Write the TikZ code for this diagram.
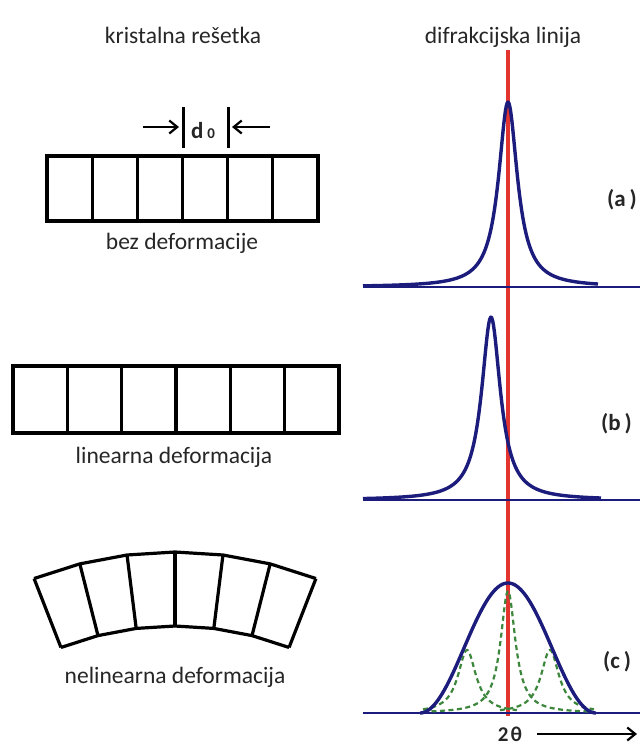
\documentclass[tikz,border=0pt]{standalone}
\usepackage{fontspec}
\setmainfont{Carlito}
\usetikzlibrary{arrows.meta}
\definecolor{peakblue}{RGB}{28,28,125}
\definecolor{refred}{RGB}{228,52,48}
\definecolor{dashgreen}{RGB}{60,135,60}
\begin{document}
\begin{tikzpicture}[x=1pt,y=-1pt,
  lat/.style={line width=3.2pt, line join=miter, black},
  lbl/.style={font=\fontsize{23.5}{28}\selectfont, inner sep=0pt, anchor=base, text=black!85},
  tag/.style={font=\fontsize{23}{27}\selectfont\bfseries, inner sep=0pt, anchor=west, text=black!85},
  peak/.style={peakblue, line width=3.4pt, line join=round},
  base/.style={peakblue, line width=2.8pt},
  gdash/.style={dashgreen, line width=2.2pt, dash pattern=on 5pt off 3.5pt},
  refline/.style={refred, line width=3.4pt},
  dim/.style={line width=2.2pt, black, -{Straight Barb[length=8pt,width=13pt,line width=2.2pt]}},
  bar/.style={line width=3pt, black}]
\useasboundingbox (0,0) rectangle (640,745);

% titles
\node[lbl] (t1) at (183,43) {kristalna rešetka};
\node[lbl] (t2) at (503,43) {difrakcijska linija};

% ---- (a) undeformed lattice
\draw[lat] (47,156) rectangle (318,221);
\foreach \i in {1,...,5} \draw[lat] ({47+\i*45.17},156) -- ++(0,65);
\draw[bar] (183,107) -- (183,148);
\draw[bar] (228,107) -- (228,148);
\coordinate (la) at (143,127);
\coordinate (lb) at (179,127);
\coordinate (ra) at (270,127);
\coordinate (rb) at (232,127);
\draw[dim] (la) -- (lb);
\draw[dim] (ra) -- (rb);
\node[font=\fontsize{23}{27}\selectfont\bfseries, inner sep=0pt, anchor=base, text=black!85] (d0) at (203,138) {d\,{\fontsize{15}{15}\selectfont 0}};
\node[lbl] (l1) at (182,249) {bez deformacije};

% ---- (b) linear deformation lattice
\draw[lat] (13,366) rectangle (339,433);
\foreach \i in {1,...,5} \draw[lat] ({13+\i*54.33},366) -- ++(0,67);
\node[lbl] (l2) at (174,463) {linearna deformacija};

% ---- (c) nonlinear deformation lattice
\foreach \a in {-21.3,-14.2,-7.1,0,7.1,14.2,21.3}
  \draw[lat] ({175+314*sin(\a)},{940-314*cos(\a)}) -- ({175+388*sin(\a)},{940-388*cos(\a)});
\draw[lat] plot[samples at={-21.3,-14.2,-7.1,0,7.1,14.2,21.3}] ({175+388*sin(\x)},{940-388*cos(\x)});
\draw[lat] plot[samples at={-21.3,-14.2,-7.1,0,7.1,14.2,21.3}] ({175+314*sin(\x)},{940-314*cos(\x)});
\node[lbl] (l3) at (175,683) {nelinearna deformacija};

% ---- reference line
\coordinate (rtop) at (508,50);
\coordinate (rbot) at (508,716);
\draw[refline] (rtop) -- (rbot);

% baselines
\draw[base] (363,287) -- (640,287);
\draw[base] (363,500) -- (640,500);
\draw[base] (363,713) -- (640,713);

% peak (a)
\draw[peak] plot[domain=-145:90, samples=260] ({508+\x},{287-185/(1+(\x/11.5)^2)});
% peak (b)
\draw[peak] plot[domain=-128:110, samples=260] ({491+\x},{500-183/(1+(\x/11.5)^2)});
% peak (c)
\draw[gdash] plot[domain=-85:85, samples=170] ({508+\x},{713-122/(1+(\x/9)^2)});
\draw[gdash] plot[domain=-44:50, samples=120] ({467+\x},{713-63/(1+(\x/11)^2)});
\draw[gdash] plot[domain=-50:44, samples=120] ({550+\x},{713-63/(1+(\x/11)^2)});
\draw[peak] plot[domain=-88:88, samples=140] ({508+\x},{713-65*(1+cos(180*\x/88))});

% tags
\node[tag] (ta) at (607,200) {(a\,)};
\node[tag] (tb) at (601,424) {(b\,)};
\node[tag] (tc) at (603,662) {(c\,)};

% 2theta axis
\node[font=\fontsize{21}{25}\selectfont\bfseries, inner sep=0pt, anchor=base, text=black!85] (tt) at (510,741) {2\hspace{2pt}θ};
\coordinate (ax) at (637,734);
\coordinate (ax0) at (537,734);
\draw[dim] (ax0) -- (ax);
\end{tikzpicture}
\end{document}
